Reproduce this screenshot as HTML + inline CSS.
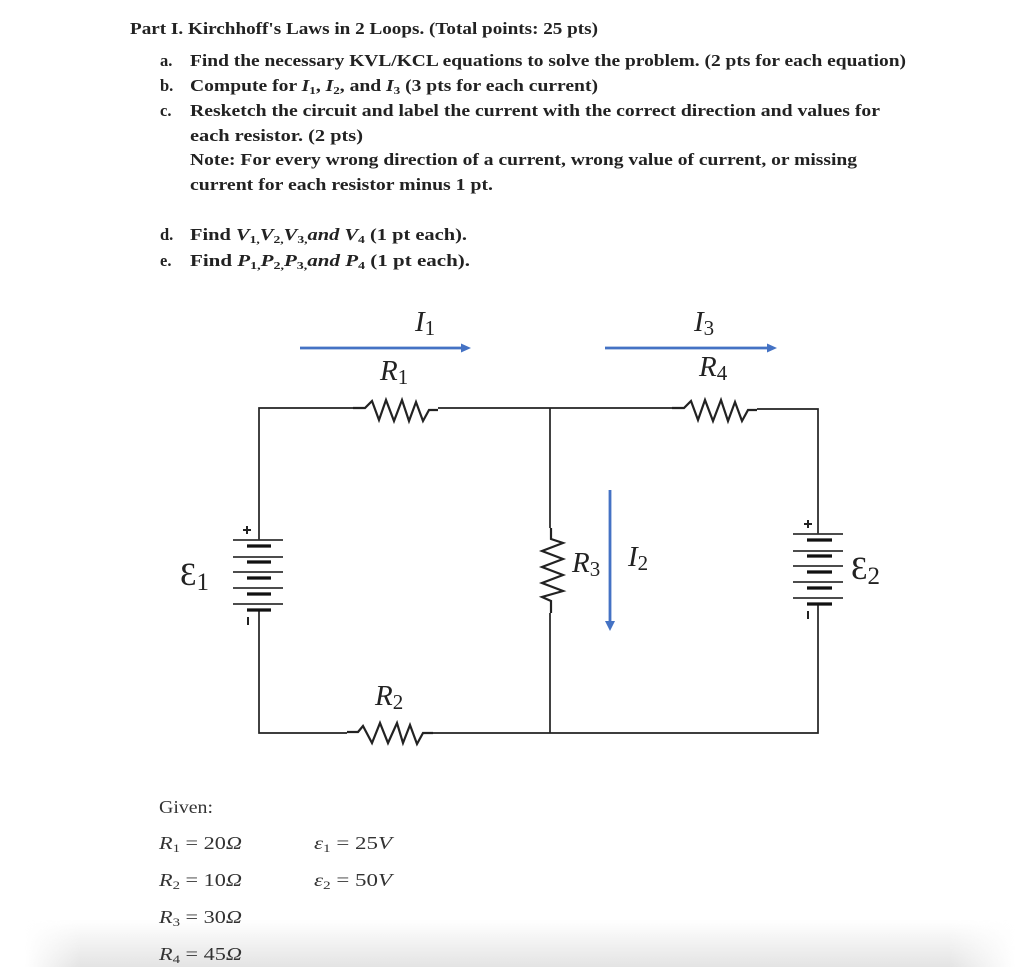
<!DOCTYPE html>
<html lang="en"><head><meta charset="utf-8"><title>Kirchhoff's Laws</title>
<style>
html,body{margin:0;padding:0;background:#fff}
body{width:1024px;height:967px;overflow:hidden;position:relative}
#sh{position:absolute;left:0;top:920px;width:1024px;height:47px;
background:linear-gradient(to bottom,rgba(225,225,225,0),rgba(225,225,225,.9));
-webkit-mask-image:linear-gradient(to right,transparent 25px,#000 80px,#000 950px,transparent 1015px);
mask-image:linear-gradient(to right,transparent 25px,#000 80px,#000 950px,transparent 1015px)}
svg{position:absolute;left:0;top:0;filter:blur(.35px)}
.t{font:bold 16.5px "Liberation Serif",serif;fill:#222}
.i{font-style:italic}
.m{font:italic 29px "Liberation Serif",serif;fill:#222}
.u{font-size:21px;font-style:normal}
.e{font:normal 33px "Liberation Serif",serif;fill:#222}
.g{font:18px "Liberation Serif",serif;fill:#333}
.gi{font-style:italic}
.w{stroke:#222;stroke-width:1.7;fill:none}
.z{stroke:#222;stroke-width:2.2;fill:none}
.b{stroke:#333;stroke-width:1.8}
.k{stroke:#111;stroke-width:3.2}
.a{stroke:#4472c4;stroke-width:2.8}
</style></head><body>
<div id="sh"></div>
<svg width="1024" height="967" viewBox="0 0 1024 967" xmlns="http://www.w3.org/2000/svg">
<text class="t" x="130" y="34" textLength="468" lengthAdjust="spacingAndGlyphs">Part I. Kirchhoff's Laws in 2 Loops. (Total points: 25 pts)</text>
<text class="t" x="160" y="66">a.</text>
<text class="t" x="190" y="66" textLength="716" lengthAdjust="spacingAndGlyphs">Find the necessary KVL/KCL equations to solve the problem. (2 pts for each equation)</text>
<text class="t" x="160" y="91">b.</text>
<text class="t" x="190" y="91" textLength="408" lengthAdjust="spacingAndGlyphs">Compute for <tspan class="i">I</tspan><tspan font-size="11" dy="3">1</tspan><tspan dy="-3">, </tspan><tspan class="i">I</tspan><tspan font-size="11" dy="3">2</tspan><tspan dy="-3">, and </tspan><tspan class="i">I</tspan><tspan font-size="11" dy="3">3</tspan><tspan dy="-3"> (3 pts for each current)</tspan></text>
<text class="t" x="160" y="116">c.</text>
<text class="t" x="190" y="116" textLength="690" lengthAdjust="spacingAndGlyphs">Resketch the circuit and label the current with the correct direction and values for</text>
<text class="t" x="190" y="141" textLength="173" lengthAdjust="spacingAndGlyphs">each resistor. (2 pts)</text>
<text class="t" x="190" y="165" textLength="667" lengthAdjust="spacingAndGlyphs">Note: For every wrong direction of a current, wrong value of current, or missing</text>
<text class="t" x="190" y="190" textLength="303" lengthAdjust="spacingAndGlyphs">current for each resistor minus 1 pt.</text>
<text class="t" x="160" y="240">d.</text>
<text class="t" x="190" y="240" textLength="277" lengthAdjust="spacingAndGlyphs">Find <tspan class="i">V</tspan><tspan font-size="11" dy="3">1,</tspan><tspan class="i" dy="-3">V</tspan><tspan font-size="11" dy="3">2,</tspan><tspan class="i" dy="-3">V</tspan><tspan font-size="11" dy="3">3,</tspan><tspan class="i" dy="-3">and  V</tspan><tspan font-size="11" dy="3">4</tspan><tspan dy="-3">  (1 pt each).</tspan></text>
<text class="t" x="160" y="266">e.</text>
<text class="t" x="190" y="266" textLength="280" lengthAdjust="spacingAndGlyphs">Find <tspan class="i">P</tspan><tspan font-size="11" dy="3">1,</tspan><tspan class="i" dy="-3">P</tspan><tspan font-size="11" dy="3">2,</tspan><tspan class="i" dy="-3">P</tspan><tspan font-size="11" dy="3">3,</tspan><tspan class="i" dy="-3">and  P</tspan><tspan font-size="11" dy="3">4</tspan><tspan dy="-3">  (1 pt each).</tspan></text>

<!-- wires -->
<path class="w" d="M353 408H259V540M259 610V733H347M433 733H818V604M818 534V409H757M672 408H438M550 408V528M550 613V733"/>
<!-- resistors -->
<path class="z" d="M353 408H365L372 401L379 420L386 400L394 421L402 400L409 421L416 402L423 421L429 410H438"/>
<path class="z" d="M672 408H684L691 401L698 420L705 400L713 421L721 400L728 421L735 402L742 421L748 410H757"/>
<path class="z" d="M347 732H358L363 726L372 743L380 723L388 743L397 723L403 743L410 725L417 744L423 733H433"/>
<path class="z" d="M551 528V539L563 543L542 551L563 559L542 567L563 575L542 583L563 591L542 597L551 601V613"/>

<!-- battery 1 -->
<path class="b" d="M233 540H283M233 557H283M233 572H283M233 588H283M233 604H283"/>
<path class="k" d="M247 546H271M247 562H271M247 578H271M247 594H271M247 610H271"/>
<path stroke="#222" stroke-width="2" d="M243 530H251M247 526V534M248 617V625"/>
<!-- battery 2 -->
<path class="b" d="M793 534H843M793 551H843M793 566H843M793 582H843M793 598H843"/>
<path class="k" d="M807 540H832M807 556H832M807 572H832M807 588H832M807 604H832"/>
<path stroke="#222" stroke-width="2" d="M804 524H812M808 520V528M808 611V619"/>

<!-- arrows -->
<path class="a" d="M300 348H463M605 348H769M610 490V622"/>
<path fill="#4472c4" d="M471 348L461 343.5V352.500ZM777 348L767 343.500V352.500ZM610 631L605 621H615Z"/>

<!-- labels -->
<text class="m" x="415" y="331">I<tspan class="u" dy="4">1</tspan></text>
<text class="m" x="694" y="331">I<tspan class="u" dy="4">3</tspan></text>
<text class="m" x="380" y="380">R<tspan class="u" dy="4">1</tspan></text>
<text class="m" x="699" y="376">R<tspan class="u" dy="4">4</tspan></text>
<text class="m" x="375" y="705">R<tspan class="u" dy="4">2</tspan></text>
<text class="m" x="572" y="572">R<tspan class="u" dy="4">3</tspan></text>
<text class="m" x="628" y="566">I<tspan class="u" dy="4">2</tspan></text>
<text class="e" x="180" y="585">Ɛ<tspan font-size="25" dy="5">1</tspan></text>
<text class="e" x="851" y="579">Ɛ<tspan font-size="25" dy="5">2</tspan></text>

<!-- given -->
<text class="g" x="159" y="813" font-size="16" textLength="54" lengthAdjust="spacingAndGlyphs">Given:</text>
<text class="g" x="159" y="849" textLength="83" lengthAdjust="spacingAndGlyphs"><tspan class="gi">R</tspan><tspan font-size="12" dy="3">1</tspan><tspan dy="-3"> = 20</tspan><tspan class="gi">Ω</tspan></text>
<text class="g" x="159" y="886" textLength="83" lengthAdjust="spacingAndGlyphs"><tspan class="gi">R</tspan><tspan font-size="12" dy="3">2</tspan><tspan dy="-3"> = 10</tspan><tspan class="gi">Ω</tspan></text>
<text class="g" x="159" y="923" textLength="83" lengthAdjust="spacingAndGlyphs"><tspan class="gi">R</tspan><tspan font-size="12" dy="3">3</tspan><tspan dy="-3"> = 30</tspan><tspan class="gi">Ω</tspan></text>
<text class="g" x="159" y="960" textLength="83" lengthAdjust="spacingAndGlyphs"><tspan class="gi">R</tspan><tspan font-size="12" dy="3">4</tspan><tspan dy="-3"> = 45</tspan><tspan class="gi">Ω</tspan></text>
<text class="g" x="314" y="849" textLength="78" lengthAdjust="spacingAndGlyphs"><tspan class="gi">ε</tspan><tspan font-size="12" dy="3">1</tspan><tspan dy="-3"> = 25</tspan><tspan class="gi">V</tspan></text>
<text class="g" x="314" y="886" textLength="78" lengthAdjust="spacingAndGlyphs"><tspan class="gi">ε</tspan><tspan font-size="12" dy="3">2</tspan><tspan dy="-3"> = 50</tspan><tspan class="gi">V</tspan></text>
</svg>
</body></html>
